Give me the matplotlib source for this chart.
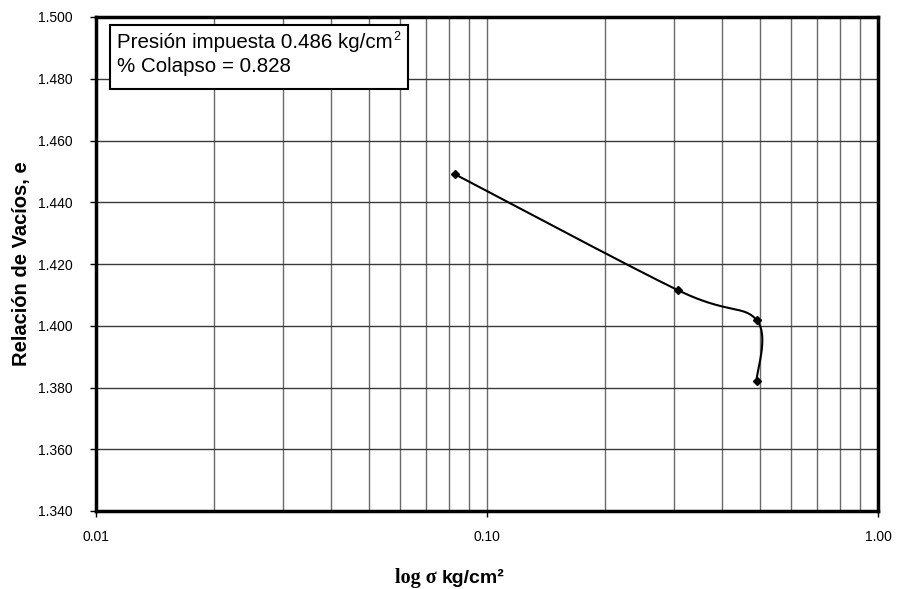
import numpy as np
import matplotlib
matplotlib.use("Agg")
import matplotlib.pyplot as plt
from matplotlib.patches import Rectangle
from matplotlib.ticker import FixedLocator, FixedFormatter, NullFormatter

# Data
presion = [0.083, 0.308, 0.489, 0.489]
relacion_vacios = [1.449, 1.4115, 1.4019, 1.3821]
y_ticks = [1.340, 1.360, 1.380, 1.400, 1.420, 1.440, 1.460, 1.480, 1.500]
x_ticks = [0.01, 0.1, 1.0]
x_tick_labels = ["0.01", "0.10", "1.00"]

plt.rcParams['font.family'] = ['Liberation Sans', 'DejaVu Sans']

fig = plt.figure(figsize=(8.98, 5.89), dpi=100)
ax = fig.add_axes([96/898, 1-511/589, (878-96)/898, (511-17)/589])
ax.set_xscale('log')
ax.set_xlim(0.01, 1.0)
ax.set_ylim(1.34, 1.50)

# grid
minor = [m * 10.0**d for d in (-2, -1) for m in range(2, 10)]
ax.xaxis.set_major_locator(FixedLocator(x_ticks))
ax.xaxis.set_major_formatter(FixedFormatter(x_tick_labels))
ax.xaxis.set_minor_locator(FixedLocator(minor))
ax.xaxis.set_minor_formatter(NullFormatter())
ax.set_yticks(y_ticks)
ax.set_yticklabels([f"{v:.3f}" for v in y_ticks])
ax.grid(True, which='both', axis='x', color='#6a6a6a', linewidth=1.0)
ax.grid(True, which='major', axis='y', color='#3a3a3a', linewidth=1.0)
ax.tick_params(axis='x', which='minor', length=0)
ax.tick_params(axis='both', which='major', direction='out', length=4, width=1,
               labelsize=10, colors='black')
ax.tick_params(axis='x', which='major', pad=10)
ax.tick_params(axis='y', which='major', pad=13)
for s in ax.spines.values():
    s.set_linewidth(2.5)
    s.set_color('black')
ax.set_axisbelow(True)

# Excel-like smoothed curve in normalized (log x, y) space
lx = np.log10(presion)
yy = np.array(relacion_vacios)
sx = (lx + 2) / 2 * 782
sy = (yy - 1.34) / 0.16 * 494
P = np.column_stack([sx, sy])
n = len(P)
pts = []
for i in range(n - 1):
    p0 = P[max(i - 1, 0)]
    p1 = P[i]
    p2 = P[i + 1]
    p3 = P[min(i + 2, n - 1)]
    c1 = p1 + (p2 - p0) / 6
    c2 = p2 - (p3 - p1) / 6
    t = np.linspace(0, 1, 60)[:, None]
    seg = ((1 - t)**3) * p1 + 3 * ((1 - t)**2) * t * c1 + 3 * (1 - t) * t**2 * c2 + t**3 * p2
    pts.append(seg)
curve = np.vstack(pts)
cx = 10 ** (curve[:, 0] / 782 * 2 - 2)
cy = curve[:, 1] / 494 * 0.16 + 1.34
ax.plot(cx, cy, color='black', linewidth=1.5, zorder=3)
ax.plot(presion, relacion_vacios, linestyle='none', marker='D', markersize=4,
        color='black', zorder=4)

# text box
box = Rectangle((110/898, 1-89/589), (408-110)/898, (89-25)/589,
                transform=fig.transFigure, facecolor='white', edgecolor='black',
                linewidth=1.5, zorder=5)
fig.patches.append(box)
t1 = fig.text(117/898, 1-43/589, "Presión impuesta 0.486 kg/cm",
              fontsize=14.8, va='center', ha='left', zorder=6)
fig.canvas.draw()
bb = t1.get_window_extent()
fig.text((bb.x1 + 1)/898, 1-37/589, "2", fontsize=9, va='center', ha='left', zorder=6)
fig.text(117/898, 1-67/589, "% Colapso = 0.828",
         fontsize=14.8, va='center', ha='left', zorder=6)

ax.set_ylabel("Relación de Vacíos, e", fontsize=14.5, fontweight='bold')
ax.yaxis.set_label_coords(-(96-31)/782, 0.5)

t2 = fig.text(395/898, 1-578/589, "log σ",
              family=['Liberation Serif', 'DejaVu Serif'], fontweight='bold',
              fontsize=14.5, ha='left', va='center')
fig.canvas.draw()
bb2 = t2.get_window_extent()
fig.text((bb2.x1 + 5)/898, 1-578/589, "kg/cm²",
         fontweight='bold', fontsize=14, ha='left', va='center')

fig.savefig("out.png", dpi=100)
